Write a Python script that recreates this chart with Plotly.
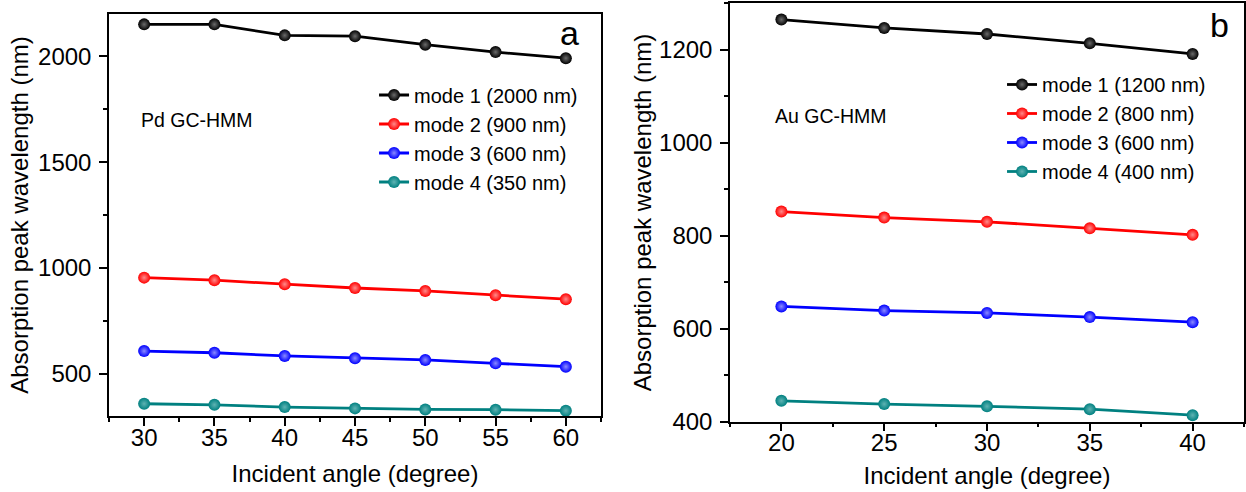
import plotly.graph_objects as go

# ---- data ----
angles_a = [30, 35, 40, 45, 50, 55, 60]
pd_mode1 = [2151, 2151, 2099, 2095, 2055, 2020, 1991]
pd_mode2 = [954, 942, 923, 905, 891, 871, 852]
pd_mode3 = [607, 599, 584, 573, 565, 549, 533]
pd_mode4 = [358, 353, 342, 336, 331, 330, 325]
names_a = ["mode 1 (2000 nm)", "mode 2 (900 nm)", "mode 3 (600 nm)", "mode 4 (350 nm)"]

angles_b = [20, 25, 30, 35, 40]
au_mode1 = [1265, 1247, 1234, 1214, 1191]
au_mode2 = [852, 839, 830, 816, 802]
au_mode3 = [648, 639, 634, 625, 614]
au_mode4 = [445, 438, 433, 427, 414]
names_b = ["mode 1 (1200 nm)", "mode 2 (800 nm)", "mode 3 (600 nm)", "mode 4 (400 nm)"]

yticks_a = [500, 1000, 1500, 2000]
yticks_b = [400, 600, 800, 1000, 1200]
xticks_a = [30, 35, 40, 45, 50, 55, 60]
xticks_b = [20, 25, 30, 35, 40]

colors = ["#000000", "#ff0000", "#0000ff", "#008080"]
highlights = ["#6a6a6a", "#ff8a8a", "#8a8aff", "#5fb3b3"]

FONT = "Liberation Sans, Arial, sans-serif"

fig = go.Figure()

series_a = [pd_mode1, pd_mode2, pd_mode3, pd_mode4]
series_b = [au_mode1, au_mode2, au_mode3, au_mode4]

for ys, name, c, h in zip(series_a, names_a, colors, highlights):
    fig.add_trace(go.Scatter(
        x=angles_a, y=ys, name=name, mode="lines+markers",
        line=dict(color=c, width=2.8),
        marker=dict(color=c, size=12, gradient=dict(type="radial", color=h)),
        xaxis="x", yaxis="y", legend="legend",
    ))

for ys, name, c, h in zip(series_b, names_b, colors, highlights):
    fig.add_trace(go.Scatter(
        x=angles_b, y=ys, name=name, mode="lines+markers",
        line=dict(color=c, width=2.8),
        marker=dict(color=c, size=12, gradient=dict(type="radial", color=h)),
        xaxis="x2", yaxis="y2", legend="legend2",
    ))

axis_common = dict(
    showline=True, linecolor="black", linewidth=1.5, mirror=True,
    ticks="outside", ticklen=8, tickwidth=1.5, tickcolor="black",
    showgrid=False, zeroline=False, automargin=False,
    tickfont=dict(family=FONT, size=24, color="black"),
)
minor_common = dict(ticks="outside", ticklen=4, tickwidth=1.5, tickcolor="black")
title_font = dict(family=FONT, size=24, color="black")

fig.update_layout(
    width=1246, height=492,
    margin=dict(l=0, r=0, t=0, b=0, autoexpand=False),
    paper_bgcolor="white", plot_bgcolor="white",
    font=dict(family=FONT, color="black"),
    showlegend=True,
    xaxis=dict(
        **axis_common, domain=[0.08748, 0.48234], range=[27.5, 62.5],
        tickvals=xticks_a, anchor="y", ticklabelstandoff=-9,
        minor=dict(**minor_common, dtick=2.5, tick0=27.5),
        title=dict(text="Incident angle (degree)", font=title_font, standoff=16),
    ),
    yaxis=dict(
        **axis_common, domain=[0.15447, 0.97154], range=[300, 2200],
        tickvals=yticks_a, anchor="x", ticklabelstandoff=3,
        minor=dict(**minor_common, dtick=250, tick0=0),
        title=dict(text="Absorption peak wavelength (nm)", font=title_font, standoff=3),
    ),
    xaxis2=dict(
        **axis_common, domain=[0.58587, 0.99839], range=[17.5, 42.5],
        tickvals=xticks_b, anchor="y2", ticklabelstandoff=-9,
        minor=dict(**minor_common, dtick=2.5, tick0=17.5),
        title=dict(text="Incident angle (degree)", font=title_font, standoff=12),
    ),
    yaxis2=dict(
        **axis_common, domain=[0.14289, 0.99329], range=[400, 1300],
        tickvals=yticks_b, anchor="x2", ticklabelstandoff=3,
        minor=dict(**minor_common, dtick=100, tick0=0),
        title=dict(text="Absorption peak wavelength (nm)", font=title_font, standoff=1),
    ),
    legend=dict(
        x=0.3002, y=0.8465, xanchor="left", yanchor="top",
        bgcolor="rgba(0,0,0,0)", borderwidth=0, tracegroupgap=0,
        font=dict(family=FONT, size=20, color="black"),
    ),
    legend2=dict(
        x=0.8042, y=0.8679, xanchor="left", yanchor="top",
        bgcolor="rgba(0,0,0,0)", borderwidth=0, tracegroupgap=0,
        font=dict(family=FONT, size=20, color="black"),
    ),
    annotations=[
        dict(text="Pd GC-HMM", x=0.1116, y=0.7561, xref="paper", yref="paper",
             xanchor="left", yanchor="middle", showarrow=False,
             font=dict(family=FONT, size=19.5, color="black")),
        dict(text="Au GC-HMM", x=0.6204, y=0.7642, xref="paper", yref="paper",
             xanchor="left", yanchor="middle", showarrow=False,
             font=dict(family=FONT, size=19.5, color="black")),
        dict(text="a", x=0.4567, y=0.933, xref="paper", yref="paper",
             xanchor="center", yanchor="middle", showarrow=False,
             font=dict(family=FONT, size=34, color="black")),
        dict(text="b", x=0.9791, y=0.949, xref="paper", yref="paper",
             xanchor="center", yanchor="middle", showarrow=False,
             font=dict(family=FONT, size=34, color="black")),
    ],
)

fig.write_html("out.html", config={"displayModeBar": False},
               post_script="document.body.style.margin='0px';")
